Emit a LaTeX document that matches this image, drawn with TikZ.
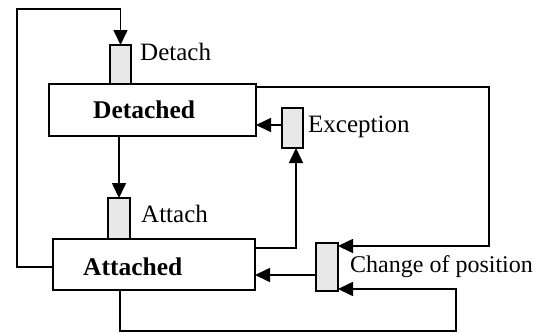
\documentclass[tikz,border=0pt]{standalone}
\usepackage{fontspec}
\setmainfont{Liberation Serif}
\usetikzlibrary{arrows.meta}
\begin{document}
\begin{tikzpicture}[x=1pt,y=-1pt,
  state/.style={draw,line width=1.6pt,fill=white,inner sep=0pt,outer sep=0pt},
  event/.style={draw,line width=1.6pt,fill=gray!18,inner sep=0pt,outer sep=0pt},
  lbl/.style={inner sep=0pt,anchor=base west,font=\fontsize{25}{29}\selectfont},
  title/.style={inner sep=0pt,anchor=base west,font=\fontsize{25.5}{29}\selectfont\bfseries},
  arr/.style={line width=1.6pt,-{Triangle[length=15pt,width=14pt]}}]
\useasboundingbox (0,0) rectangle (538,332);

% states
\node[state,minimum width=207pt,minimum height=52pt] (detached) at (152.5,110) {};
\node[title] (detachedtxt) at (93,118) {Detached};
\node[state,minimum width=202pt,minimum height=51pt] (attached) at (154,264.5) {};
\node[title] (attachedtxt) at (83,275) {Attached};

% events
\node[event,minimum width=21pt,minimum height=39pt] (detach) at (120.5,64.5) {};
\node[lbl] (detachtxt) at (140,60) {Detach};
\node[event,minimum width=22pt,minimum height=41pt] (attach) at (119,218.5) {};
\node[lbl] (attachtxt) at (141,222) {Attach};
\node[event,minimum width=21pt,minimum height=40pt] (exc) at (292.5,128) {};
\node[lbl] (exctxt) at (308,132) {Exception};
\node[event,minimum width=22pt,minimum height=48pt] (chg) at (327,267) {};
\node[lbl,font=\fontsize{24}{28}\selectfont] (chgtxt) at (350,272) {Change of position};

% loop corners
\coordinate (tl) at (17,9);
\coordinate (tr) at (489,87);
\coordinate (br) at (456,331);

% transitions
\draw[arr] ([yshift=-2.5pt]attached.west) -| (tl) -| (detach.north);
\draw[arr] (detached.south -| attach.north) -- (attach.north);
\draw[arr] ([yshift=16.5pt]attached.east) -| ([xshift=3.5pt]exc.south);
\draw[arr] ([yshift=3pt]exc.west) -- ([yshift=3pt]exc.west -| detached.east);
\draw[arr] ([yshift=-3pt]detached.north east) -- (tr) |- ([yshift=21pt]chg.east);
\draw[arr] ([yshift=-8pt]chg.west) -- ([yshift=-8pt]chg.west -| attached.east);
\draw[arr] ([xshift=-34pt]attached.south) |- (br) |- ([yshift=-22pt]chg.east);
\end{tikzpicture}
\end{document}
